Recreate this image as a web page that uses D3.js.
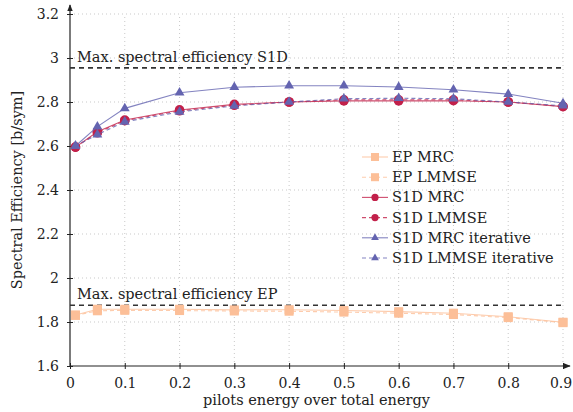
<!DOCTYPE html>
<html>
<head>
<meta charset="utf-8">
<script src="https://cdn.jsdelivr.net/npm/d3@7"></script>
<style>
  body { margin: 0; background: #fff; }
  text { font-family: "DejaVu Serif", "Liberation Serif", serif; fill: #222; }
</style>
</head>
<body>
<script>
// pilot energy fractions
var pilots = [0.01, 0.05, 0.1, 0.2, 0.3, 0.4, 0.5, 0.6, 0.7, 0.8, 0.9];

// series values (b/sym)
var epMRC = [1.832, 1.858, 1.858, 1.858, 1.855, 1.856, 1.852, 1.847, 1.840, 1.824, 1.799];
var epLMMSE = [1.830, 1.851, 1.853, 1.852, 1.850, 1.849, 1.845, 1.840, 1.834, 1.820, 1.797];
var s1dMRC = [2.595, 2.665, 2.718, 2.764, 2.789, 2.800, 2.805, 2.805, 2.806, 2.800, 2.779];
var s1dLMMSE = [2.595, 2.660, 2.715, 2.760, 2.785, 2.800, 2.810, 2.810, 2.810, 2.800, 2.780];
var s1dMRCit = [2.600, 2.688, 2.771, 2.842, 2.867, 2.874, 2.874, 2.868, 2.856, 2.836, 2.794];
var s1dLMMSEit = [2.600, 2.652, 2.710, 2.755, 2.782, 2.800, 2.815, 2.817, 2.815, 2.800, 2.783];

var maxS1D = 2.955;
var maxEP = 1.876;

var xTicks = [0, 0.1, 0.2, 0.3, 0.4, 0.5, 0.6, 0.7, 0.8, 0.9];
var yTicks = [1.6, 1.8, 2, 2.2, 2.4, 2.6, 2.8, 3, 3.2];

var series = [
  {name: "EP MRC", values: epMRC, color: "#fcbf98", mark: "square", dash: null},
  {name: "EP LMMSE", values: epLMMSE, color: "#fcbf98", mark: "square", dash: "4,3"},
  {name: "S1D MRC", values: s1dMRC, color: "#c2204a", mark: "circle", dash: null},
  {name: "S1D LMMSE", values: s1dLMMSE, color: "#c2204a", mark: "circle", dash: "4,3"},
  {name: "S1D MRC iterative", values: s1dMRCit, color: "#6464b0", mark: "triangle", dash: null},
  {name: "S1D LMMSE iterative", values: s1dLMMSEit, color: "#6464b0", mark: "triangle", dash: "4,3"}
];

var fs = "14.5px";
var width = 573, height = 412;
var x = d3.scaleLinear().domain([0, 0.9]).range([70, 563]);
var y = d3.scaleLinear().domain([1.6, 3.2]).range([366, 14]);

var svg = d3.select("body").append("svg")
    .attr("width", width)
    .attr("height", height);

// grid
svg.append("g").selectAll("line").data(xTicks.slice(1)).join("line")
    .attr("x1", d => x(d)).attr("x2", d => x(d))
    .attr("y1", y(1.6)).attr("y2", y(3.2))
    .attr("stroke", "#bbb").attr("stroke-width", 0.8).attr("stroke-dasharray", "1,3");
svg.append("g").selectAll("line").data(yTicks.slice(1)).join("line")
    .attr("x1", x(0)).attr("x2", x(0.9))
    .attr("y1", d => y(d)).attr("y2", d => y(d))
    .attr("stroke", "#bbb").attr("stroke-width", 0.8).attr("stroke-dasharray", "1,3");

// axes
var xAxis = svg.append("g")
    .attr("transform", "translate(0," + y(1.6) + ")")
    .call(d3.axisBottom(x).tickValues(xTicks).tickSize(3).tickPadding(9)
      .tickFormat(d => d === 0 ? "0" : d3.format(".1f")(d)));
var yAxis = svg.append("g")
    .attr("transform", "translate(" + x(0) + ",0)")
    .call(d3.axisLeft(y).tickValues(yTicks).tickSize(3).tickPadding(8)
      .tickFormat(d => Number.isInteger(d) ? d : d3.format(".1f")(d)));
[xAxis, yAxis].forEach(function(a) {
  a.select(".domain").remove();
  a.selectAll("text").style("font-family", "DejaVu Serif").style("font-size", "14px").attr("fill", "#222");
  a.selectAll(".tick line").attr("stroke", "#222");
});
// last x label sits at the window edge
xAxis.selectAll(".tick text").filter(d => d === 0.9).attr("dx", -2.5);
// ticks crossing the axis line
xAxis.selectAll(".tick line").attr("y1", -3);
yAxis.selectAll(".tick line").attr("x1", 3);

// axis lines with arrows
svg.append("defs").append("marker")
    .attr("id", "arr").attr("viewBox", "0 0 10 10").attr("refX", 9).attr("refY", 5)
    .attr("markerWidth", 6).attr("markerHeight", 6).attr("orient", "auto")
  .append("path").attr("d", "M0,1 L10,5 L0,9 Z").attr("fill", "#222");
svg.append("line").attr("x1", x(0)).attr("x2", x(0)).attr("y1", y(1.6)).attr("y2", 5)
    .attr("stroke", "#222").attr("stroke-width", 1.2).attr("marker-end", "url(#arr)");
svg.append("line").attr("x1", x(0)).attr("x2", 570).attr("y1", y(1.6)).attr("y2", y(1.6))
    .attr("stroke", "#222").attr("stroke-width", 1.2).attr("marker-end", "url(#arr)");

// max spectral efficiency lines
[[maxS1D, "Max. spectral efficiency S1D"], [maxEP, "Max. spectral efficiency EP"]].forEach(function(m) {
  svg.append("line").attr("x1", x(0)).attr("x2", x(0.9))
      .attr("y1", y(m[0])).attr("y2", y(m[0]))
      .attr("stroke", "#333").attr("stroke-width", 1.6).attr("stroke-dasharray", "5,4");
  svg.append("text").attr("x", x(0) + 7).attr("y", y(m[0]) - 6)
      .style("font-size", fs).text(m[1]);
});

function drawMark(g, type, color) {
  if (type === "square") {
    g.append("rect").attr("x", -4.5).attr("y", -4.5).attr("width", 9).attr("height", 9)
        .attr("fill", color);
  } else if (type === "circle") {
    g.append("circle").attr("r", 4.8).attr("fill", color);
  } else {
    g.append("path").attr("d", d3.symbol(d3.symbolTriangle, 42)())
        .attr("fill", color);
  }
}

var line = d3.line().x((d, i) => x(pilots[i])).y(d => y(d));

series.forEach(function(s) {
  svg.append("path").datum(s.values)
      .attr("d", line)
      .attr("fill", "none")
      .attr("stroke", s.color)
      .attr("stroke-opacity", 0.8)
      .attr("stroke-width", 1.1)
      .attr("stroke-dasharray", s.dash);
  s.values.forEach(function(v, i) {
    var g = svg.append("g").attr("transform", "translate(" + x(pilots[i]) + "," + y(v) + ")");
    drawMark(g, s.mark, s.color);
  });
});

// legend
var legend = svg.append("g").attr("transform", "translate(362,157)");
series.forEach(function(s, i) {
  var g = legend.append("g").attr("transform", "translate(0," + (i * 20.2) + ")");
  g.append("line").attr("x1", 0).attr("x2", 26).attr("y1", 0).attr("y2", 0)
      .attr("stroke", s.color).attr("stroke-width", 1.1).attr("stroke-opacity", 0.8)
      .attr("stroke-dasharray", s.dash);
  var m = g.append("g").attr("transform", "translate(13,0)");
  if (s.mark === "square") {
    m.append("rect").attr("x", -4).attr("y", -4).attr("width", 8).attr("height", 8).attr("fill", s.color);
  } else if (s.mark === "circle") {
    m.append("circle").attr("r", 3.6).attr("fill", s.color);
  } else {
    m.append("path").attr("d", d3.symbol(d3.symbolTriangle, 26)()).attr("fill", s.color);
  }
  g.append("text").attr("x", 30).attr("y", 5).style("font-size", fs).text(s.name);
});

// axis titles
svg.append("text").attr("x", x(0.45)).attr("y", 405)
    .attr("text-anchor", "middle").style("font-size", fs)
    .text("pilots energy over total energy");
svg.append("text").attr("transform", "translate(22," + y(2.4) + ") rotate(-90)")
    .attr("text-anchor", "middle").style("font-size", fs)
    .text("Spectral Efficiency [b/sym]");
</script>
</body>
</html>
